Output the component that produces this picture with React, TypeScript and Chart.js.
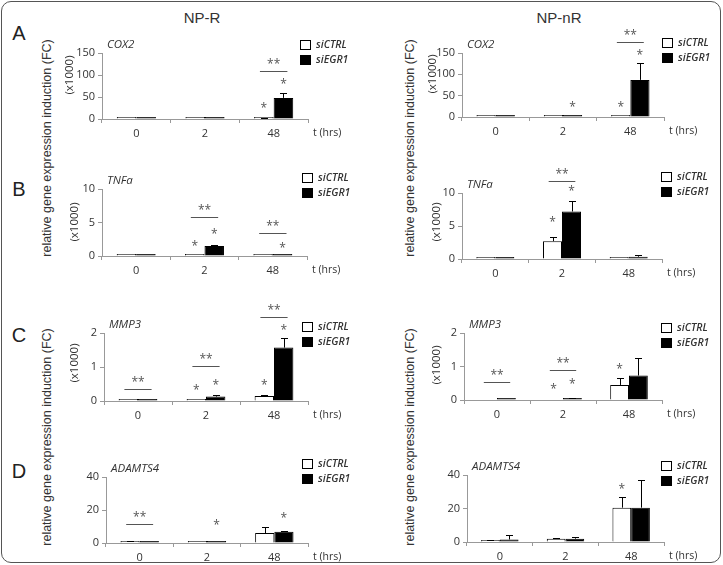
import React, { useEffect, useRef } from "react";
import { Chart, registerables } from "chart.js";
Chart.register(...registerables);

// ---------- DATA ----------
const timepoints = ["0", "2", "48"];
const seriesNames = ["siCTRL", "siEGR1"];

// A – COX2 (x1000)
const cox2_NPR_ctrl = [0.5, 0.5, 1.0];
const cox2_NPR_ctrlErr = [0, 0, 0.3];
const cox2_NPR_egr1 = [0.5, 0.5, 48];
const cox2_NPR_egr1Err = [0, 0, 11];
const cox2_NPnR_ctrl = [1, 1, 1];
const cox2_NPnR_ctrlErr = [0, 0, 0];
const cox2_NPnR_egr1 = [1, 1, 87];
const cox2_NPnR_egr1Err = [0, 0, 39];

// B – TNFa (x1000)
const tnfa_NPR_ctrl = [0.1, 0.15, 0.1];
const tnfa_NPR_ctrlErr = [0, 0, 0];
const tnfa_NPR_egr1 = [0.1, 1.5, 0.1];
const tnfa_NPR_egr1Err = [0, 0.2, 0];
const tnfa_NPnR_ctrl = [0.1, 2.7, 0.1];
const tnfa_NPnR_ctrlErr = [0, 0.7, 0];
const tnfa_NPnR_egr1 = [0.1, 7.2, 0.35];
const tnfa_NPnR_egr1Err = [0, 1.6, 0.2];

// C – MMP3 (x1000)
const mmp3_NPR_ctrl = [0.03, 0.03, 0.15];
const mmp3_NPR_ctrlErr = [0, 0, 0.02];
const mmp3_NPR_egr1 = [0.03, 0.13, 1.57];
const mmp3_NPR_egr1Err = [0, 0.04, 0.27];
const mmp3_NPnR_ctrl = [null, null, 0.45];
const mmp3_NPnR_ctrlErr = [0, 0, 0.2];
const mmp3_NPnR_egr1 = [0.02, 0.04, 0.73];
const mmp3_NPnR_egr1Err = [0, 0.02, 0.52];

// D – ADAMTS4
const adamts4_NPR_ctrl = [1.0, 0.5, 6];
const adamts4_NPR_ctrlErr = [0.3, 0, 4];
const adamts4_NPR_egr1 = [0.3, 0.5, 6.8];
const adamts4_NPR_egr1Err = [0, 0, 0.5];
const adamts4_NPnR_ctrl = [1.0, 2.0, 20.5];
const adamts4_NPnR_ctrlErr = [0.3, 0.4, 6.5];
const adamts4_NPnR_egr1 = [1.5, 2.0, 20.5];
const adamts4_NPnR_egr1Err = [2.5, 1, 16.5];

// significance stars: [timepoint index, series index, value level]
const cox2_NPR_stars = [[2, 0, 30], [2, 1, 86]];
const cox2_NPnR_stars = [[1, 1, 28], [2, 0, 28], [2, 1, 152]];
const tnfa_NPR_stars = [[1, 0, 1.8], [1, 1, 3.6], [2, 1, 1.5]];
const tnfa_NPnR_stars = [[1, 0, 6.0], [1, 1, 10.6]];
const mmp3_NPR_stars = [[1, 0, 0.4], [1, 1, 0.55], [2, 0, 0.55], [2, 1, 2.15]];
const mmp3_NPnR_stars = [[1, 0, 0.4], [1, 1, 0.55], [2, 0, 1.0]];
const adamts4_NPR_stars = [[1, 1, 12.3], [2, 1, 16.5]];
const adamts4_NPnR_stars = [[2, 0, 33]];

// "**" brackets: [timepoint index, value level]
const cox2_NPR_sig = [[2, 110]];
const cox2_NPnR_sig = [[2, 176]];
const tnfa_NPR_sig = [[1, 5.8], [2, 3.4]];
const tnfa_NPnR_sig = [[1, 11.8]];
const mmp3_NPR_sig = [[0, 0.35], [1, 1.03], [2, 2.47]];
const mmp3_NPnR_sig = [[0, 0.55], [1, 0.9]];
const adamts4_NPR_sig = [[0, 11.5]];
const adamts4_NPnR_sig: number[][] = [];

// y axes
const yMaxA = 150, yStepA = 50;
const yMaxB = 10, yStepB = 5;
const yMaxC = 2, yStepC = 1;
const yMaxD = 40, yStepD = 20;

// ---------- LAYOUT ----------
const FONT = "'Open Sans', 'Liberation Sans', sans-serif";
const TXT = "#333";
const CAT_PCT = 0.57;

type Panel = {
  gene: string; x1000: boolean;
  ctrl: (number | null)[]; ctrlErr: number[]; egr1: number[]; egr1Err: number[];
  stars: number[][]; sig: number[][]; yMax: number; yStep: number;
  area: { l: number; r: number; t: number; b: number };
  canvas: { L: number; T: number; W: number; H: number };
  legend: { x: number; y: number };
  x1000pos: { x: number; y: number };
};

const rowsCanvas = [
  { T: 18, H: 130 }, { T: 158, H: 127 }, { T: 298, H: 127 }, { T: 440, H: 123 },
];
const colL = [55, 415];

const panels: Panel[] = [
  { gene: "COX2", x1000: true, ctrl: cox2_NPR_ctrl, ctrlErr: cox2_NPR_ctrlErr, egr1: cox2_NPR_egr1, egr1Err: cox2_NPR_egr1Err,
    stars: cox2_NPR_stars, sig: cox2_NPR_sig, yMax: yMaxA, yStep: yStepA,
    area: { l: 102, r: 308, t: 53, b: 119 }, canvas: { L: colL[0], ...rowsCanvas[0], W: 305 },
    legend: { x: 300, y: 40 }, x1000pos: { x: 70, y: 75 } },
  { gene: "COX2", x1000: true, ctrl: cox2_NPnR_ctrl, ctrlErr: cox2_NPnR_ctrlErr, egr1: cox2_NPnR_egr1, egr1Err: cox2_NPnR_egr1Err,
    stars: cox2_NPnR_stars, sig: cox2_NPnR_sig, yMax: yMaxA, yStep: yStepA,
    area: { l: 462, r: 664, t: 53, b: 117 }, canvas: { L: colL[1], ...rowsCanvas[0], W: 305 },
    legend: { x: 662, y: 38 }, x1000pos: { x: 433, y: 74 } },
  { gene: "TNFa", x1000: true, ctrl: tnfa_NPR_ctrl, ctrlErr: tnfa_NPR_ctrlErr, egr1: tnfa_NPR_egr1, egr1Err: tnfa_NPR_egr1Err,
    stars: tnfa_NPR_stars, sig: tnfa_NPR_sig, yMax: yMaxB, yStep: yStepB,
    area: { l: 102, r: 307, t: 189, b: 256 }, canvas: { L: colL[0], ...rowsCanvas[1], W: 305 },
    legend: { x: 302, y: 173 }, x1000pos: { x: 75, y: 222 } },
  { gene: "TNFa", x1000: true, ctrl: tnfa_NPnR_ctrl, ctrlErr: tnfa_NPnR_ctrlErr, egr1: tnfa_NPnR_egr1, egr1Err: tnfa_NPnR_egr1Err,
    stars: tnfa_NPnR_stars, sig: tnfa_NPnR_sig, yMax: yMaxB, yStep: yStepB,
    area: { l: 462, r: 662, t: 193, b: 259 }, canvas: { L: colL[1], ...rowsCanvas[1], W: 305 },
    legend: { x: 661, y: 172 }, x1000pos: { x: 437, y: 222 } },
  { gene: "MMP3", x1000: true, ctrl: mmp3_NPR_ctrl, ctrlErr: mmp3_NPR_ctrlErr, egr1: mmp3_NPR_egr1, egr1Err: mmp3_NPR_egr1Err,
    stars: mmp3_NPR_stars, sig: mmp3_NPR_sig, yMax: yMaxC, yStep: yStepC,
    area: { l: 104, r: 308, t: 333, b: 401 }, canvas: { L: colL[0], ...rowsCanvas[2], W: 305 },
    legend: { x: 302, y: 322 }, x1000pos: { x: 75, y: 363 } },
  { gene: "MMP3", x1000: true, ctrl: mmp3_NPnR_ctrl, ctrlErr: mmp3_NPnR_ctrlErr, egr1: mmp3_NPnR_egr1, egr1Err: mmp3_NPnR_egr1Err,
    stars: mmp3_NPnR_stars, sig: mmp3_NPnR_sig, yMax: yMaxC, yStep: yStepC,
    area: { l: 464, r: 662, t: 333, b: 400 }, canvas: { L: colL[1], ...rowsCanvas[2], W: 305 },
    legend: { x: 661, y: 323 }, x1000pos: { x: 437, y: 365 } },
  { gene: "ADAMTS4", x1000: false, ctrl: adamts4_NPR_ctrl, ctrlErr: adamts4_NPR_ctrlErr, egr1: adamts4_NPR_egr1, egr1Err: adamts4_NPR_egr1Err,
    stars: adamts4_NPR_stars, sig: adamts4_NPR_sig, yMax: yMaxD, yStep: yStepD,
    area: { l: 106, r: 308, t: 477, b: 543 }, canvas: { L: colL[0], ...rowsCanvas[3], W: 305 },
    legend: { x: 302, y: 459 }, x1000pos: { x: 0, y: 0 } },
  { gene: "ADAMTS4", x1000: false, ctrl: adamts4_NPnR_ctrl, ctrlErr: adamts4_NPnR_ctrlErr, egr1: adamts4_NPnR_egr1, egr1Err: adamts4_NPnR_egr1Err,
    stars: adamts4_NPnR_stars, sig: adamts4_NPnR_sig, yMax: yMaxD, yStep: yStepD,
    area: { l: 467, r: 664, t: 475, b: 542 }, canvas: { L: colL[1], ...rowsCanvas[3], W: 305 },
    legend: { x: 661, y: 461 }, x1000pos: { x: 0, y: 0 } },
];

function makeOverlay(p: Panel) {
  const { L, T } = p.canvas;
  return {
    id: "overlay",
    afterDatasetsDraw(chart: any) {
      const ctx = chart.ctx as CanvasRenderingContext2D;
      const ys = chart.scales.y;
      const xs = chart.scales.x;
      const ca = chart.chartArea;
      const catW = (ca.right - ca.left) / timepoints.length;
      const barW = (catW * CAT_PCT) / 2;
      const barX = (c: number, s: number) => xs.getPixelForValue(c) + (s === 0 ? -barW / 2 : barW / 2);
      ctx.save();
      // error bars
      const errs = [p.ctrlErr, p.egr1Err];
      const vals = [p.ctrl, p.egr1];
      ctx.strokeStyle = "#000";
      ctx.lineWidth = 1;
      for (let s = 0; s < 2; s++) {
        errs[s].forEach((e, j) => {
          const v = vals[s][j];
          if (!e || v == null) return;
          const x = Math.round(barX(j, s)) + 0.5;
          const y0 = ys.getPixelForValue(v);
          const y1 = Math.round(ys.getPixelForValue(v + e)) + 0.5;
          ctx.beginPath();
          ctx.moveTo(x, y0);
          ctx.lineTo(x, y1);
          ctx.moveTo(x - 3.5, y1);
          ctx.lineTo(x + 3.5, y1);
          ctx.stroke();
        });
      }
      // stars
      ctx.fillStyle = "#555";
      ctx.font = `12px ${FONT}`;
      ctx.textAlign = "center";
      ctx.textBaseline = "middle";
      p.stars.forEach(([c, s, v]) => {
        ctx.fillText("*", barX(c, s), ys.getPixelForValue(v) + 3);
      });
      // brackets
      p.sig.forEach(([c, v]) => {
        const cx = xs.getPixelForValue(c);
        const y = Math.round(ys.getPixelForValue(v)) + 0.5;
        const hw = catW * 0.2;
        ctx.strokeStyle = "#555";
        ctx.beginPath();
        ctx.moveTo(cx - hw, y);
        ctx.lineTo(cx + hw, y);
        ctx.stroke();
        ctx.fillText("**", cx, y - 7);
      });
      // gene name
      ctx.fillStyle = TXT;
      ctx.textAlign = "left";
      ctx.font = `italic 11.5px ${FONT}`;
      ctx.fillText(p.gene, ca.left + 5, ca.top - 8);
      // t (hrs)
      ctx.font = `10.5px ${FONT}`;
      ctx.fillText("t (hrs)", ca.right + 5, ca.bottom + 14);
      // x1000
      if (p.x1000) {
        ctx.save();
        ctx.translate(p.x1000pos.x - L, p.x1000pos.y - T);
        ctx.rotate(-Math.PI / 2);
        ctx.textAlign = "center";
        ctx.font = `11.5px ${FONT}`;
        ctx.fillText("(x1000)", 0, 0);
        ctx.restore();
      }
      // legend
      const lx = p.legend.x - L, ly = p.legend.y - T;
      ctx.font = `italic 600 10.5px ${FONT}`;
      seriesNames.forEach((n, i) => {
        const by = ly + i * 15;
        ctx.fillStyle = i === 0 ? "#fff" : "#000";
        ctx.fillRect(lx + 0.5, by + 0.5, 10, 9);
        ctx.strokeStyle = "#000";
        ctx.strokeRect(lx + 0.5, by + 0.5, 10, 9);
        ctx.fillStyle = TXT;
        ctx.textAlign = "left";
        ctx.fillText(n, lx + 16, by + 5);
      });
      ctx.restore();
    },
  };
}

function PanelChart({ p }: { p: Panel }) {
  const ref = useRef<HTMLCanvasElement>(null);
  useEffect(() => {
    const { L, T, W, H } = p.canvas;
    const a = p.area;
    const chart = new Chart(ref.current!, {
      type: "bar",
      data: {
        labels: timepoints,
        datasets: [
          { label: seriesNames[0], data: p.ctrl, backgroundColor: "#fff", borderColor: "#000", borderWidth: 1 },
          { label: seriesNames[1], data: p.egr1, backgroundColor: "#000", borderColor: "#000", borderWidth: 1 },
        ],
      },
      options: {
        animation: false,
        responsive: false,
        maintainAspectRatio: false,
        datasets: { bar: { categoryPercentage: CAT_PCT, barPercentage: 1, minBarLength: 2 } },
        layout: { padding: { left: 0, top: a.t - T, right: L + W - a.r, bottom: 0 } },
        plugins: { legend: { display: false }, tooltip: { enabled: false } },
        scales: {
          x: {
            grid: { drawOnChartArea: false, tickLength: 4, color: "#999", offset: true },
            border: { color: "#999" },
            ticks: { color: TXT, font: { family: FONT, size: 11 }, padding: 4 },
            afterFit: (s: any) => { s.height = T + H - a.b; },
          },
          y: {
            min: 0, max: p.yMax,
            grid: { drawOnChartArea: false, tickLength: 4, color: "#999" },
            border: { color: "#999" },
            ticks: { stepSize: p.yStep, color: TXT, font: { family: FONT, size: 11 }, padding: 3 },
            afterFit: (s: any) => { s.width = a.l - L; },
          },
        },
      },
      plugins: [makeOverlay(p)],
    } as any);
    return () => chart.destroy();
  }, [p]);
  const { L, T, W, H } = p.canvas;
  return <canvas ref={ref} width={W} height={H} style={{ position: "absolute", left: L, top: T, width: W, height: H }} />;
}

const bigLabel = "relative gene expression induction (FC)";
const bigLabels = [
  { x: 47, y: 148 }, { x: 47, y: 437 }, { x: 410, y: 148 }, { x: 410, y: 437 },
];
const letters = [
  { t: "A", y: 33 }, { t: "B", y: 189 }, { t: "C", y: 335 }, { t: "D", y: 471 },
];

export default function App() {
  return (
    <div style={{ position: "absolute", left: 0, top: 0, width: 723, height: 565, background: "#fff", overflow: "hidden" }}>
      <div style={{ position: "absolute", left: 1, top: 1, width: 720, height: 562, boxSizing: "border-box", border: "1.5px solid #555", borderRadius: 10 }} />
      <div style={{ position: "absolute", left: 202, top: 17, transform: "translate(-50%,-50%)", font: `15px 'Liberation Sans', Arial, sans-serif`, color: TXT }}>NP-R</div>
      <div style={{ position: "absolute", left: 559, top: 17, transform: "translate(-50%,-50%)", font: `15px 'Liberation Sans', Arial, sans-serif`, color: TXT }}>NP-nR</div>
      {letters.map((l) => (
        <div key={l.t} style={{ position: "absolute", left: 19, top: l.y, transform: "translate(-50%,-50%)", font: `20px 'Liberation Sans', Arial, sans-serif`, color: "#222" }}>{l.t}</div>
      ))}
      {bigLabels.map((b, i) => (
        <div key={i} style={{ position: "absolute", left: b.x, top: b.y, transform: "translate(-50%,-50%) rotate(-90deg)", whiteSpace: "nowrap", font: `12.5px 'Liberation Sans', Arial, sans-serif`, color: TXT }}>{bigLabel}</div>
      ))}
      {panels.map((p, i) => <PanelChart key={i} p={p} />)}
    </div>
  );
}
